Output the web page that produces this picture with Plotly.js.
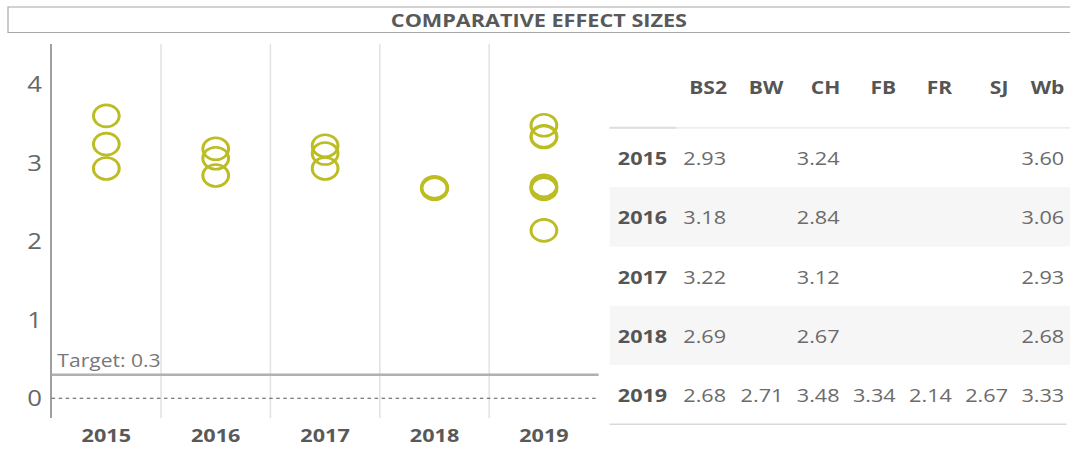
<!DOCTYPE html>
<html>
<head>
<meta charset="utf-8">
<script src="https://cdn.plot.ly/plotly-3.0.1.min.js"></script>
<style>
  html, body { margin: 0; padding: 0; background: #fff; overflow: hidden; }
  #chart { transform-origin: 0 0; }
</style>
</head>
<body>
<div id="chart"></div>
<script>
// ---- data ----
const chartTitle = "COMPARATIVE EFFECT SIZES";
const years = ["2015", "2016", "2017", "2018", "2019"];
const seriesNames = ["BS2", "BW", "CH", "FB", "FR", "SJ", "Wb"];
const BS2 = [2.93, 3.18, 3.22, 2.69, 2.68];
const BW  = [null, null, null, null, 2.71];
const CH  = [3.24, 2.84, 3.12, 2.67, 3.48];
const FB  = [null, null, null, null, 3.34];
const FR  = [null, null, null, null, 2.14];
const SJ  = [null, null, null, null, 2.67];
const Wb  = [3.60, 3.06, 2.93, 2.68, 3.33];
const seriesValues = [BS2, BW, CH, FB, FR, SJ, Wb];
const yTicks = [0, 1, 2, 3, 4];
const target = 0.3;

// ---- layout constants (positions in final-picture pixels) ----
const W = 1070, H = 451;
const SX = 1.17;              // horizontal stretch of the original picture
const Wi = W / SX;            // inner plot width before stretch
const py = v => 1 - v / H;
const markerColor = "#bcbd22";
const FONT = "Open Sans, Noto Sans, sans-serif";

const chartDiv = document.getElementById("chart");
chartDiv.style.width = Wi + "px";
chartDiv.style.height = H + "px";
chartDiv.style.transform = "scaleX(" + SX + ")";

const traces = seriesNames.map((name, i) => ({
  type: "scatter",
  mode: "markers",
  name: name,
  x: years,
  y: seriesValues[i],
  xaxis: "x",
  yaxis: "y",
  cliponaxis: false,
  marker: { symbol: "circle-open", size: 22, color: markerColor, line: { width: 2.6, color: markerColor } },
  hoverinfo: "x+y+name"
}));

const shapes = [];
const annotations = [];

// title box
shapes.push({ type: "rect", xref: "paper", yref: "paper", x0: 8 / W, x1: 1.01, y0: py(32.5), y1: py(7),
  line: { color: "#a6a6a6", width: 1 }, fillcolor: "rgba(0,0,0,0)" });
annotations.push({ xref: "paper", yref: "paper", x: (8 + W) / 2 / W, y: py(19.8), xanchor: "center", yanchor: "middle",
  text: "<b>" + chartTitle + "</b>", showarrow: false, font: { family: FONT, size: 18.5, color: "#595959" } });

// vertical gridlines at category boundaries
for (let i = 0; i < years.length - 1; i++) {
  shapes.push({ type: "line", xref: "x", yref: "y domain", x0: i + 0.5, x1: i + 0.5, y0: 0, y1: 1,
    line: { color: "#e2e2e2", width: 1.3 }, layer: "below" });
}
// zero dotted line
shapes.push({ type: "line", xref: "x domain", yref: "y", x0: 0, x1: 1, y0: 0, y1: 0,
  line: { color: "#555555", width: 1, dash: "dot" } });
// target line
shapes.push({ type: "line", xref: "x domain", yref: "y", x0: 0, x1: 1, y0: target, y1: target,
  line: { color: "#b0b0b0", width: 2.5 } });
annotations.push({ xref: "x domain", yref: "y", x: 0.006, y: target, xanchor: "left", yanchor: "bottom", yshift: 1,
  text: "Target: " + target, showarrow: false, font: { family: FONT, size: 18, color: "#777777" } });

// ---- table (drawn on x2/y2 with picture-pixel ranges) ----
const tLeft = 609, tRight = 1070;
const headerY = 86.5, headerLineY = 127.8, rowH = 59.3;
const labelRight = 669;
const colRight = [729, 786, 842, 898, 954, 1010, 1067];

years.forEach((yr, r) => {
  const top = headerLineY + r * rowH;
  if (r % 2 === 1) {
    shapes.push({ type: "rect", xref: "x2", yref: "y2", x0: tLeft, x1: tRight, y0: top, y1: top + rowH,
      fillcolor: "#f6f6f6", line: { width: 0 }, layer: "below" });
  }
  const cy = top + rowH / 2;
  annotations.push({ xref: "x2", yref: "y2", x: labelRight, y: cy, xanchor: "right", yanchor: "middle",
    text: "<b>" + yr + "</b>", showarrow: false, font: { family: FONT, size: 18.5, color: "#555555" } });
  seriesValues.forEach((vals, c) => {
    if (vals[r] !== null) {
      annotations.push({ xref: "x2", yref: "y2", x: colRight[c], y: cy, xanchor: "right", yanchor: "middle",
        text: vals[r].toFixed(2), showarrow: false, font: { family: FONT, size: 18.5, color: "#6b6b6b" } });
    }
  });
});
seriesNames.forEach((nm, c) => {
  annotations.push({ xref: "x2", yref: "y2", x: colRight[c], y: headerY, xanchor: "right", yanchor: "middle",
    text: "<b>" + nm + "</b>", showarrow: false, font: { family: FONT, size: 18, color: "#555555" } });
});
// header underline
shapes.push({ type: "line", xref: "x2", yref: "y2", x0: tLeft, x1: tRight, y0: headerLineY, y1: headerLineY,
  line: { color: "#e8e8e8", width: 1.2 } });
shapes.push({ type: "line", xref: "x2", yref: "y2", x0: tLeft, x1: 676, y0: headerLineY, y1: headerLineY,
  line: { color: "#dedede", width: 2 } });
// bottom line
const bottomY = headerLineY + years.length * rowH;
shapes.push({ type: "line", xref: "x2", yref: "y2", x0: tLeft, x1: 1066, y0: bottomY, y1: bottomY,
  line: { color: "#d9d9d9", width: 1.5 } });

const layout = {
  width: Wi, height: H,
  margin: { l: 0, r: 0, t: 0, b: 0 },
  paper_bgcolor: "#ffffff",
  plot_bgcolor: "rgba(0,0,0,0)",
  showlegend: false,
  font: { family: FONT },
  xaxis: {
    domain: [51.6 / W, 598.3 / W],
    type: "category",
    range: [-0.5, years.length - 0.5],
    showgrid: false, zeroline: false, showline: false, ticks: "",
    ticklabelstandoff: 4,
    tickfont: { family: FONT, size: 18.5, color: "#595959", weight: "bold" },
    fixedrange: true
  },
  yaxis: {
    domain: [py(418.3), py(44)],
    range: [-0.255, 4.516],
    tickvals: yTicks,
    showgrid: false, zeroline: false,
    showline: true, linecolor: "#a0a0a0", linewidth: 1.8,
    ticks: "", ticklabelstandoff: 2,
    tickfont: { family: FONT, size: 22, color: "#666666" },
    fixedrange: true
  },
  xaxis2: { domain: [tLeft / W, 1], range: [tLeft, tRight], visible: false, fixedrange: true, anchor: "y2" },
  yaxis2: { domain: [0, 1], range: [H, 0], visible: false, fixedrange: true, anchor: "x2" },
  shapes: shapes,
  annotations: annotations
};

Plotly.newPlot("chart", traces, layout, { displayModeBar: false, staticPlot: true });
</script>
</body>
</html>
